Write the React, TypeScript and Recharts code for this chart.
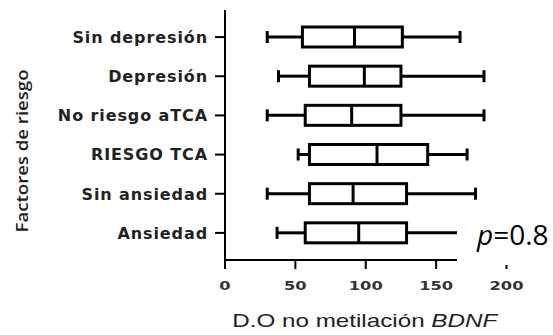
import { ComposedChart, Bar, XAxis, YAxis } from "recharts"

const categories = ["Sin depresión", "Depresión", "No riesgo aTCA", "RIESGO TCA", "Sin ansiedad", "Ansiedad"]
const mins = [30, 38, 30, 52, 30, 37]
const q1s = [55, 60, 57, 60, 60, 57]
const medians = [92, 99, 90, 108, 91, 95]
const q3s = [126, 125, 125, 144, 129, 129]
const maxs = [167, 184, 184, 172, 178, 180]
const xTicks = [0, 50, 100, 150, 200]

const data = categories.map((name, i) => ({
  name,
  min: mins[i],
  q1: q1s[i],
  median: medians[i],
  q3: q3s[i],
  max: maxs[i],
}))

const BoxShape = (props: any) => {
  const { x, y, width, height, payload } = props
  const p = payload
  const px = (v: number) => x + ((v - p.min) / (p.max - p.min)) * width
  const cy = y + height / 2
  const sw = 3
  const capH = 12
  return (
    <g stroke="#000" strokeWidth={sw} fill="none">
      <line x1={px(p.min)} x2={px(p.q1)} y1={cy} y2={cy} />
      <line x1={px(p.q3)} x2={px(p.max)} y1={cy} y2={cy} />
      <line x1={px(p.min)} x2={px(p.min)} y1={cy - capH / 2} y2={cy + capH / 2} />
      <line x1={px(p.max)} x2={px(p.max)} y1={cy - capH / 2} y2={cy + capH / 2} />
      <rect
        x={px(p.q1)}
        y={y + sw / 2}
        width={px(p.q3) - px(p.q1)}
        height={height - sw}
        fill="#fff"
      />
      <line x1={px(p.median)} x2={px(p.median)} y1={y + sw / 2} y2={y + height - sw / 2} />
    </g>
  )
}

const YTick = (props: any) => {
  const { x, y, payload } = props
  return (
    <text
      x={x}
      y={y}
      dy="0.36em"
      textAnchor="end"
      fill="#222"
      fontFamily="DejaVu Sans"
      fontWeight="bold"
      fontSize={16}
      letterSpacing={0.9}
    >
      {payload.value}
    </text>
  )
}

const XTick = (props: any) => {
  const { x, y, payload } = props
  const label = String(payload.value)
  return (
    <text
      x={x}
      y={y}
      dy="0.71em"
      textAnchor="middle"
      fill="#333"
      fontFamily="DejaVu Sans"
      fontWeight="bold"
      fontSize={13}
      textLength={11.3 * label.length}
      lengthAdjust="spacingAndGlyphs"
    >
      {label}
    </text>
  )
}

const XTitle = (props: any) => {
  const vb = props.viewBox || { x: 225, y: 260, width: 281, height: 75 }
  return (
    <text
      x={vb.x + vb.width / 2 - 1}
      y={vb.y + 67}
      textAnchor="middle"
      fill="#222"
      fontFamily="Liberation Sans"
      fontSize={19}
      textLength={265}
      lengthAdjust="spacingAndGlyphs"
    >
      D.O no metilación <tspan fontStyle="italic">BDNF</tspan>
    </text>
  )
}

const YTitle = (props: any) => {
  const vb = props.viewBox || { x: 0, y: 10, width: 225, height: 250 }
  const cy = vb.y + vb.height / 2 + 16
  return (
    <text
      transform={`translate(${vb.x + 28},${cy}) rotate(-90)`}
      textAnchor="middle"
      fill="#222"
      fontFamily="Open Sans"
      fontWeight={600}
      fontSize={17}
      textLength={163}
      lengthAdjust="spacingAndGlyphs"
    >
      Factores de riesgo
    </text>
  )
}

export default function App() {
  return (
    <div style={{ position: "fixed", left: 0, top: 0, width: 553, height: 335, background: "#fff" }}>
      <ComposedChart
        width={553}
        height={335}
        data={data}
        layout="vertical"
        margin={{ top: 10, right: 46.5, bottom: 0, left: 0 }}
      >
        <XAxis
          type="number"
          domain={[0, 200]}
          ticks={xTicks}
          height={75}
          tickSize={9}
          tickMargin={12}
          axisLine={{ stroke: "#000", strokeWidth: 2 }}
          tickLine={{ stroke: "#000", strokeWidth: 2 }}
          tick={<XTick />}
          label={<XTitle />}
        />
        <YAxis
          type="category"
          dataKey="name"
          width={225}
          padding={{ top: 7.5, bottom: 7.5 }}
          tickSize={10}
          tickMargin={7}
          axisLine={{ stroke: "#000", strokeWidth: 2 }}
          tickLine={{ stroke: "#000", strokeWidth: 2 }}
          tick={<YTick />}
          label={<YTitle />}
        />
        <Bar
          dataKey={(d: any) => [d.min, d.max]}
          barSize={23}
          shape={<BoxShape />}
          isAnimationActive={false}
        />
      </ComposedChart>
      <div style={{ position: "absolute", left: 457, top: 205, width: 96, height: 60, background: "#fff" }}>
        <svg width={96} height={60}>
          <text x={20} y={40} fontFamily="Open Sans" fontSize={28} fill="#000">
            <tspan fontStyle="italic">p</tspan>=0.8
          </text>
        </svg>
      </div>
    </div>
  )
}
